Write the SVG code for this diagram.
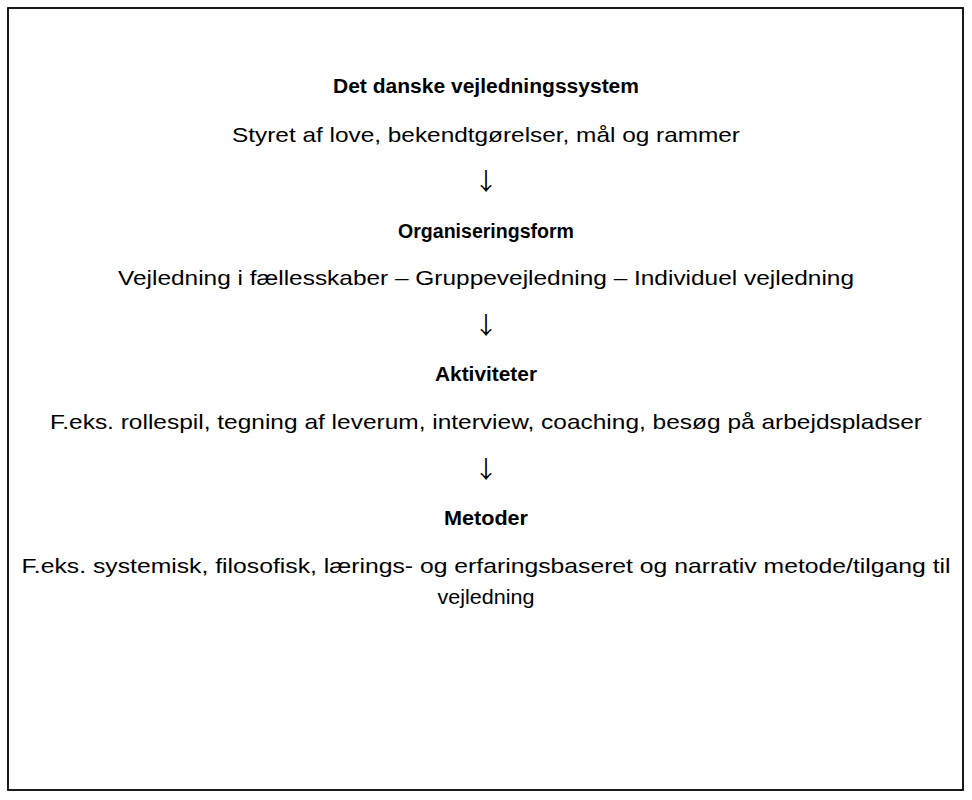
<svg xmlns="http://www.w3.org/2000/svg" width="972" height="800" viewBox="0 0 972 800">
<style>
.t{font-family:"Liberation Sans",Arial,sans-serif;font-size:21px;fill:#000;text-anchor:middle}
.b{font-weight:bold;font-size:20px}
.arr{font-family:"Noto Sans CJK JP","DejaVu Sans",sans-serif;font-size:24px;fill:#000;text-anchor:middle}
</style>
<rect x="0" y="0" width="972" height="800" fill="#fff"/>
<rect x="8" y="8" width="955" height="782" fill="none" stroke="#000" stroke-width="1.8"/>
<g id="n1">
<text class="t b" x="486" y="93" textLength="306" lengthAdjust="spacingAndGlyphs">Det danske vejledningssystem</text>
<text class="t" x="486" y="142" textLength="508" lengthAdjust="spacingAndGlyphs">Styret af love, bekendtgørelser, mål og rammer</text>
</g>
<g id="n2">
<text class="t b" x="486" y="238" textLength="176" lengthAdjust="spacingAndGlyphs">Organiseringsform</text>
<text class="t" x="486" y="285" textLength="736" lengthAdjust="spacingAndGlyphs">Vejledning i fællesskaber – Gruppevejledning – Individuel vejledning</text>
</g>
<g id="n3">
<text class="t b" x="486" y="381" textLength="102" lengthAdjust="spacingAndGlyphs">Aktiviteter</text>
<text class="t" x="486" y="429" textLength="872" lengthAdjust="spacingAndGlyphs">F.eks. rollespil, tegning af leverum, interview, coaching, besøg på arbejdspladser</text>
</g>
<g id="n4">
<text class="t b" x="486" y="525" textLength="84" lengthAdjust="spacingAndGlyphs">Metoder</text>
<text class="t" x="486" y="573" textLength="929" lengthAdjust="spacingAndGlyphs">F.eks. systemisk, filosofisk, lærings- og erfaringsbaseret og narrativ metode/tilgang til</text>
<text class="t" x="486" y="604" textLength="97" lengthAdjust="spacingAndGlyphs">vejledning</text>
</g>
<g id="connectors">
<text class="arr" x="486" y="190">↓</text>
<text class="arr" x="486" y="334">↓</text>
<text class="arr" x="486" y="478">↓</text>
</g>
</svg>
